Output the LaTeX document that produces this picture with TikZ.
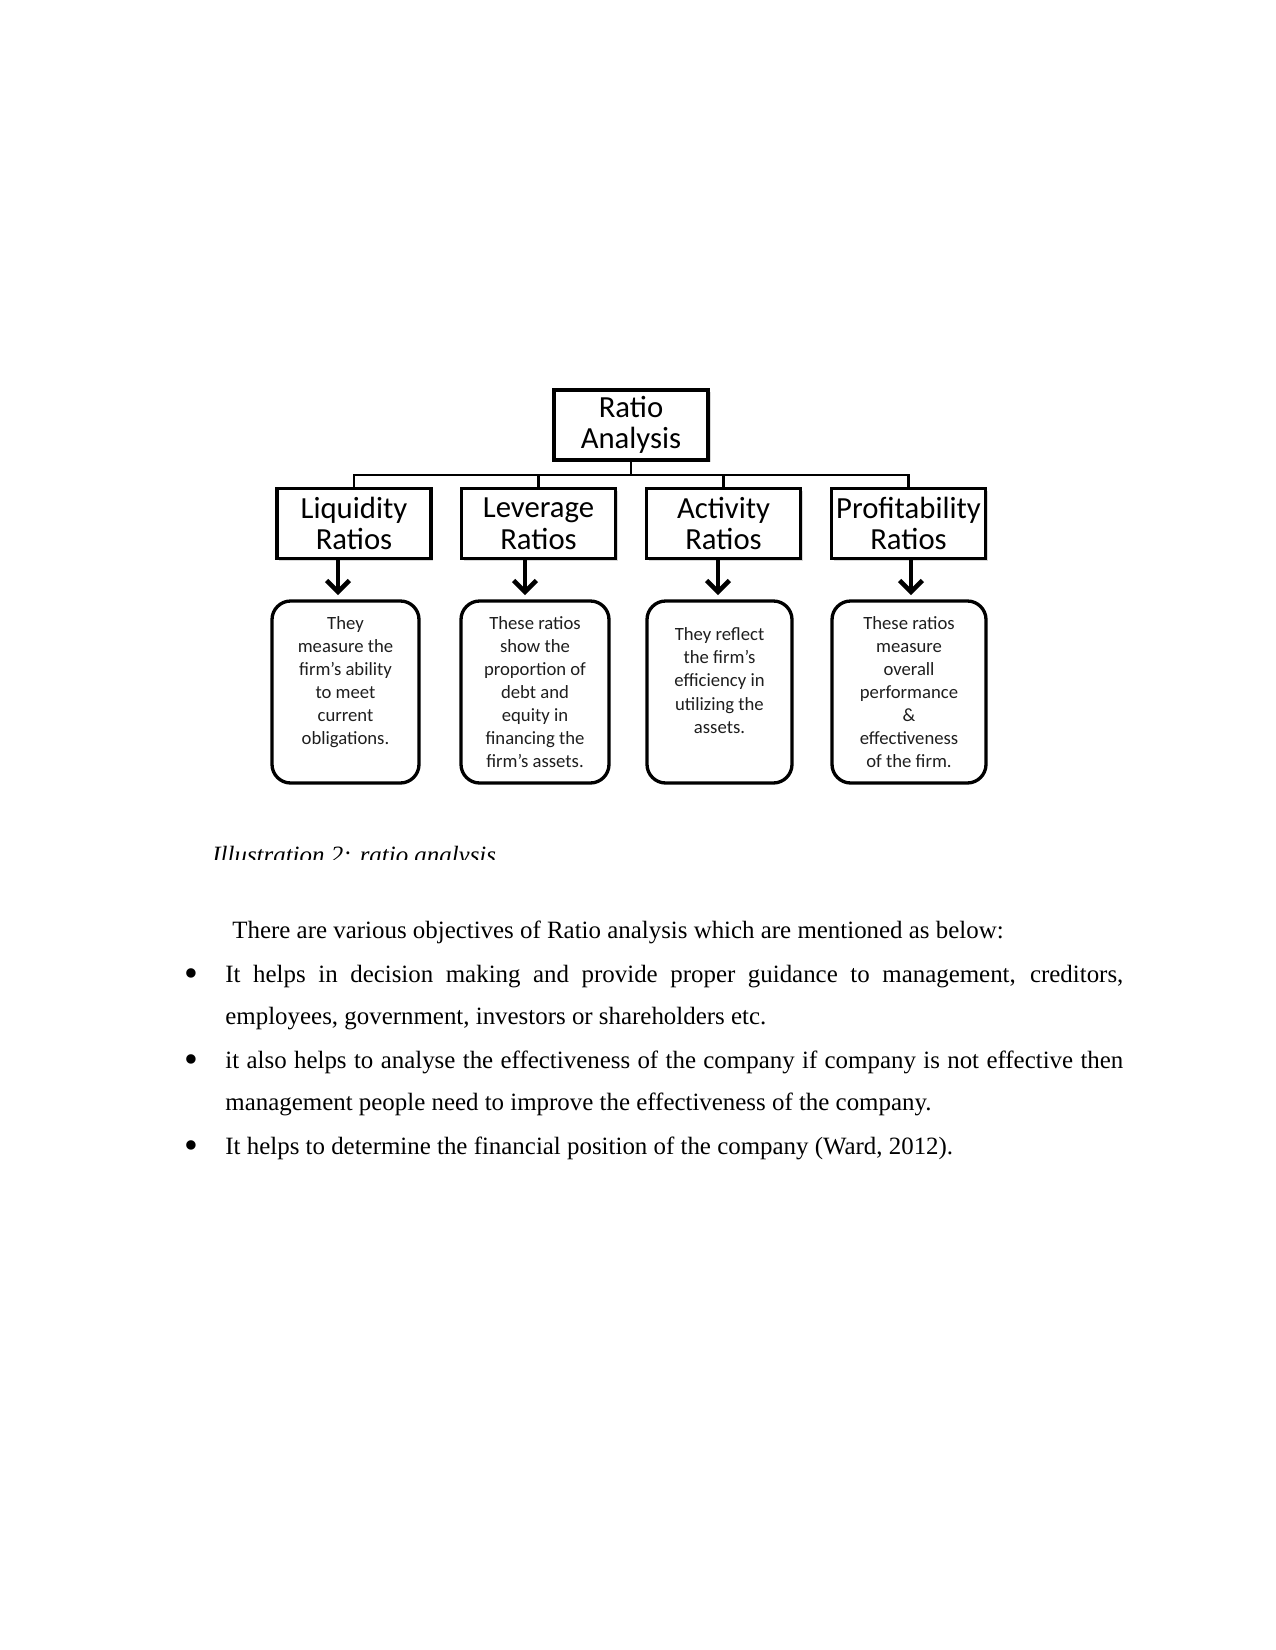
\documentclass[tikz,border=0pt]{standalone}
\usepackage{fontspec}
\setmainfont{Liberation Serif}
\newfontfamily\calibri{Carlito}
\usetikzlibrary{arrows.meta,positioning,shadows}
\definecolor{BoxLine}{RGB}{0,0,0}
\definecolor{DescText}{RGB}{30,30,30}
\newlength{\pxu}
\setlength{\pxu}{0.4818pt}
\tikzset{
  headbox/.style={draw=BoxLine,fill=white,line width=1.6pt,
    minimum width=154\pxu,minimum height=70\pxu,inner sep=0pt,align=center,
    font=\calibri\fontsize{14.8}{15.2}\selectfont,
    drop shadow={shadow xshift=1.2pt,shadow yshift=-1.2pt,fill=black!30,opacity=0.5}},
  descbox/.style={draw=BoxLine,fill=white,line width=1.6pt,rounded corners=9pt,
    minimum height=182\pxu,inner sep=0pt,align=center,text=DescText,
    font=\calibri\fontsize{9}{11.1}\selectfont},
  link/.style={line width=1.4pt},
  downarrow/.style={line width=2.2pt,shorten >=2pt,-{Straight Barb[length=5.5pt,width=11pt]}},
  bodytext/.style={inner sep=0pt,font=\fontsize{12}{20.7}\selectfont},
}

\begin{document}
\begin{tikzpicture}[x=0.4818pt,y=-0.4818pt]
  \useasboundingbox (0,0) rectangle (1275,1650);
  % chart
  \node[headbox] (ratio) at (631,425) {Ratio\\Analysis};
  \node[headbox] (liq) at (354,523.5) {Liquidity\\Ratios};
  \node[headbox] (lev) at (538.5,523.5) {Leverage\\Ratios};
  \node[headbox] (act) at (723.5,523.5) {Activity\\Ratios};
  \node[headbox] (pro) at (908.5,523.5) {Profitability\\Ratios};
  \coordinate (bus) at (631,475);
  \draw[link] (ratio) -- (bus);
  \foreach \n in {liq,lev,act,pro}
    \draw[link] (bus) -| (\n.north);
  \node[descbox,minimum width=147\pxu] (liqd) at (345.5,692)
    {They\\measure the\\firm’s ability\\to meet\\current\\obligations.\\\mbox{}};
  \node[descbox,minimum width=148\pxu] (levd) at (535,692)
    {These ratios\\show the\\proportion of\\debt and\\equity in\\financing the\\firm’s assets.};
  \node[descbox,minimum width=145\pxu] (actd) at (719.5,692)
    {They reflect\\the firm’s\\efficiency in\\utilizing the\\assets.\\\mbox{}};
  \node[descbox,minimum width=154\pxu] (prod) at (909,692)
    {These ratios\\measure\\overall\\performance\\\&\\effectiveness\\of the firm.};
  \foreach \a/\b/\x in {liq/liqd/338,lev/levd/525,act/actd/718,pro/prod/911}
    \draw[downarrow] (\x,0 |- \a.south) -- (\x,0 |- \b.north);
  % caption, cut off at the bottom
  \begin{scope}
    \clip (0,0) rectangle (1275,859);
    \node[bodytext,anchor=base west,font=\itshape\fontsize{12}{14}\selectfont] (caption)
      at (212,863.5) {Illustration 2: ratio analysis};
  \end{scope}
  % text
  \node[bodytext,anchor=base west] (intro) at (232,938)
    {There are various objectives of Ratio analysis which are mentioned as below:};
  \foreach \y/\n in {982/b1,1068/b2,1154/b3}
    \node[bodytext,anchor=base,font=\fontsize{19}{20}\selectfont] (\n) at (191,\y+4) {•};
  \node[bodytext,anchor=base west] (obj1) at (225,982)
    {\parbox[t]{432.6pt}{It helps in decision making and provide proper guidance to management, creditors,\linebreak employees, government, investors or shareholders etc.}};
  \node[bodytext,anchor=base west] (obj2) at (225,1068)
    {\parbox[t]{432.6pt}{it also helps to analyse the effectiveness of the company if company is not effective then\linebreak management people need to improve the effectiveness of the company.}};
  \node[bodytext,anchor=base west] (obj3) at (225,1154)
    {It helps to determine the financial position of the company (Ward, 2012).};
\end{tikzpicture}
\end{document}
